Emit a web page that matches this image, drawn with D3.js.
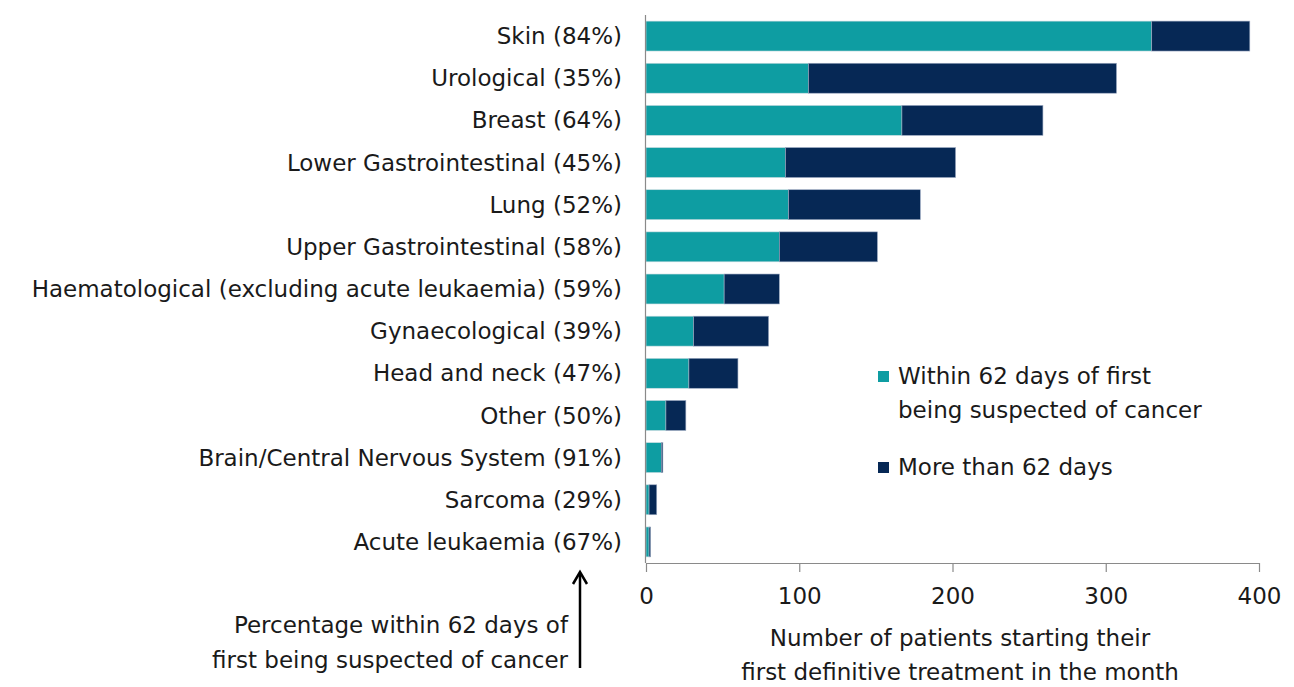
<!DOCTYPE html>
<html>
<head>
<meta charset="utf-8">
<script src="https://cdn.jsdelivr.net/npm/d3@7"></script>
<style>
  body { margin: 0; background: #fff; }
  svg text { font-family: "DejaVu Sans", "Noto Sans", sans-serif; fill: #1a1a1a; }
</style>
</head>
<body>
<script>
// data
var categories = ["Skin", "Urological", "Breast", "Lower Gastrointestinal", "Lung",
    "Upper Gastrointestinal", "Haematological (excluding acute leukaemia)", "Gynaecological",
    "Head and neck", "Other", "Brain/Central Nervous System", "Sarcoma", "Acute leukaemia"];
var within62 = [330, 106, 167, 91, 93, 87, 51, 31, 28, 13, 10, 2, 2];
var over62   = [64, 201, 92, 111, 86, 64, 36, 49, 32, 13, 1, 5, 1];
var percentLabels = ["84%", "35%", "64%", "45%", "52%", "58%", "59%", "39%", "47%", "50%", "91%", "29%", "67%"];
var xTicks = [0, 100, 200, 300, 400];
var seriesNames = ["Within 62 days of first being suspected of cancer", "More than 62 days"];

var W = 1294, H = 687;
var TEAL = "#0e9da2", NAVY = "#062855";
var FONT = 23;

var svg = d3.select("body").append("svg")
    .attr("width", W)
    .attr("height", H);

var x = d3.scaleLinear().domain([0, 400]).range([646, 1259]);
var y = d3.scaleBand().domain(categories).range([15, 563]).paddingInner(0.29).paddingOuter(0.145);

var rows = categories.map(function(c, i) {
    return {cat: c, a: within62[i], b: over62[i], pct: percentLabels[i]};
});

// bars
var g = svg.append("g");
g.selectAll("rect.a").data(rows).enter().append("rect")
    .attr("class", "a")
    .attr("x", x(0))
    .attr("y", d => y(d.cat))
    .attr("width", d => x(d.a) - x(0))
    .attr("height", y.bandwidth())
    .style("fill", TEAL)
    .style("stroke", "#c9dbe0")
    .style("stroke-width", 0.6);
g.selectAll("rect.b").data(rows).enter().append("rect")
    .attr("class", "b")
    .attr("x", d => x(d.a))
    .attr("y", d => y(d.cat))
    .attr("width", d => x(d.a + d.b) - x(d.a))
    .attr("height", y.bandwidth())
    .style("fill", NAVY)
    .style("stroke", "#9aa8c0")
    .style("stroke-width", 0.6);

// category labels
svg.append("g").selectAll("text").data(rows).enter().append("text")
    .attr("x", 622)
    .attr("y", d => y(d.cat) + y.bandwidth() / 2)
    .attr("dy", "0.35em")
    .attr("text-anchor", "end")
    .style("font-size", FONT + "px")
    .text(d => d.cat + " (" + d.pct + ")");

// vertical axis line
svg.append("line")
    .attr("x1", 645.5).attr("x2", 645.5)
    .attr("y1", 15).attr("y2", 563)
    .style("stroke", "#8a8a8a").style("stroke-width", 1.2);

// x axis
var xAxis = svg.append("g")
    .attr("transform", "translate(0,563)")
    .call(d3.axisBottom(x).tickValues(xTicks).tickSize(9).tickPadding(16).tickSizeOuter(0));
xAxis.select(".domain").style("stroke", "#8a8a8a").style("stroke-width", 1.2);
xAxis.selectAll(".tick line").style("stroke", "#8a8a8a").style("stroke-width", 1.2);
xAxis.selectAll(".tick text")
    .style("font-size", FONT + "px")
    .style("font-family", "'DejaVu Sans', 'Noto Sans', sans-serif")
    .style("fill", "#1a1a1a");

// x axis title
var xt = svg.append("text")
    .attr("text-anchor", "middle")
    .style("font-size", FONT + "px");
xt.append("tspan").attr("x", 960).attr("y", 646).text("Number of patients starting their");
xt.append("tspan").attr("x", 960).attr("y", 680).text("first definitive treatment in the month");

// percentage note with arrow
var pt = svg.append("text")
    .attr("text-anchor", "end")
    .style("font-size", FONT + "px");
pt.append("tspan").attr("x", 568).attr("y", 633).text("Percentage within 62 days of");
pt.append("tspan").attr("x", 568).attr("y", 668).text("first being suspected of cancer");

svg.append("line")
    .attr("x1", 580).attr("x2", 580)
    .attr("y1", 668).attr("y2", 574)
    .style("stroke", "#000").style("stroke-width", 2.5);
svg.append("path")
    .attr("d", "M573,584 L580,572 L587,584")
    .style("fill", "none")
    .style("stroke", "#000")
    .style("stroke-width", 2.5)
    .style("stroke-linejoin", "miter");

// legend
var legend = svg.append("g");
legend.append("rect").attr("x", 878).attr("y", 371).attr("width", 11).attr("height", 11).style("fill", TEAL);
var l1 = legend.append("text").style("font-size", FONT + "px");
l1.append("tspan").attr("x", 898).attr("y", 384).text("Within 62 days of first");
l1.append("tspan").attr("x", 898).attr("y", 418).text("being suspected of cancer");
legend.append("rect").attr("x", 878).attr("y", 462).attr("width", 11).attr("height", 11).style("fill", NAVY);
legend.append("text").attr("x", 898).attr("y", 475).style("font-size", FONT + "px").text(seriesNames[1]);
</script>
</body>
</html>
